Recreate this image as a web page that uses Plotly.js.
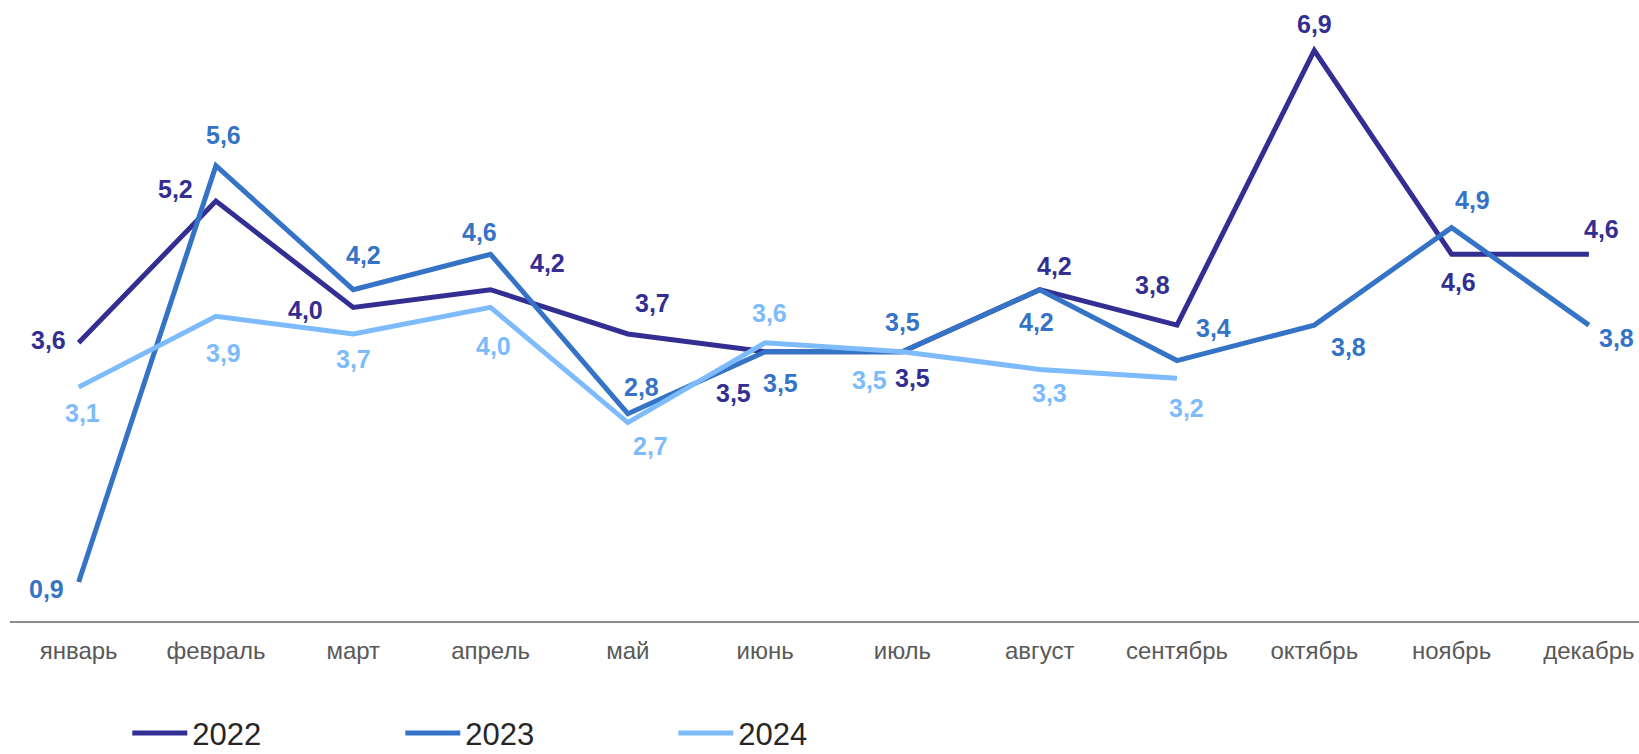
<!DOCTYPE html>
<html>
<head>
<meta charset="utf-8">
<script src="https://cdn.plot.ly/plotly-3.0.1.min.js"></script>
<style>html,body{margin:0;padding:0;background:#fff;}#chart{width:1639px;height:754px;}</style>
</head>
<body>
<div id="chart"></div>
<script>
const months = ["январь","февраль","март","апрель","май","июнь","июль","август","сентябрь","октябрь","ноябрь","декабрь"];
const seriesNames = ["2022","2023","2024"];
const values2022 = [3.6, 5.2, 4.0, 4.2, 3.7, 3.5, 3.5, 4.2, 3.8, 6.9, 4.6, 4.6];
const values2023 = [0.9, 5.6, 4.2, 4.6, 2.8, 3.5, 3.5, 4.2, 3.4, 3.8, 4.9, 3.8];
const values2024 = [3.1, 3.9, 3.7, 4.0, 2.7, 3.6, 3.5, 3.3, 3.2];

// label offsets (px, dx right, dy down) relative to each point
const offsets2022 = [[-30,-3],[-40,-12],[-48,3],[57,-27],[25,-31],[-32,41],[10,26],[15,-24],[-25,-40],[0,-27],[7,28],[13,-25]];
const offsets2023 = [[-32,7],[8,-31],[10,-35],[-11,-22],[14,-27],[15,31],[0,-30],[-3,32],[36,-33],[34,22],[21,-28],[28,13]];
const offsets2024 = [[4,26],[8,37],[0,25],[3,39],[23,23],[4,-30],[-33,28],[10,24],[9,30]];

const colors = ["#332E91", "#3473C6", "#7DBBFC"];
const allValues = [values2022, values2023, values2024];
const allOffsets = [offsets2022, offsets2023, offsets2024];
const FONT = "Liberation Sans, Arial, sans-serif";

const traces = allValues.map((vals, i) => ({
  type: "scatter",
  mode: "lines",
  name: seriesNames[i],
  x: months.slice(0, vals.length),
  y: vals,
  line: {color: colors[i], width: 5},
  hoverinfo: "skip"
}));

const annotations = [];
allValues.forEach((vals, i) => {
  vals.forEach((v, j) => {
    const off = allOffsets[i][j];
    annotations.push({
      x: months[j], y: v, xref: "x", yref: "y",
      text: v.toFixed(1).replace(".", ","),
      showarrow: false,
      xshift: off[0], yshift: -off[1],
      font: {family: FONT, size: 25, color: colors[i], weight: "bold"}
    });
  });
});

const layout = {
  width: 1639, height: 754,
  margin: {l: 10, r: 0, t: 0, b: 133, pad: 0, autoexpand: false},
  paper_bgcolor: "#fff", plot_bgcolor: "#fff",
  font: {family: FONT},
  showlegend: true,
  legend: {
    orientation: "h", x: 0.072, xanchor: "left", y: -0.181, yanchor: "middle",
    font: {family: FONT, size: 31, color: "#262626"},
    entrywidth: 203, entrywidthmode: "pixels", itemwidth: 55,
    bgcolor: "rgba(0,0,0,0)"
  },
  xaxis: {
    type: "category", range: [-0.5, 11.365],
    showgrid: false, zeroline: false,
    showline: true, linecolor: "#8C8C8C", linewidth: 1.5,
    ticks: "", ticklabelstandoff: 8,
    tickfont: {family: FONT, size: 24, color: "#595959"},
    fixedrange: true
  },
  yaxis: {
    range: [0.46, 7.47], showgrid: false, zeroline: false,
    showline: false, showticklabels: false, ticks: "", fixedrange: true
  },
  annotations: annotations
};

Plotly.newPlot("chart", traces, layout, {displayModeBar: false, staticPlot: true});
</script>
</body>
</html>
